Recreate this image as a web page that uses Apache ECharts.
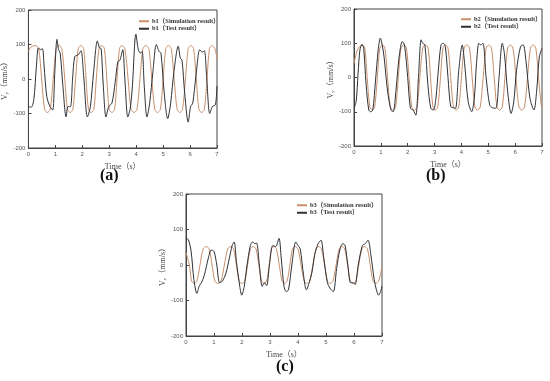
<!DOCTYPE html>
<html>
<head>
<meta charset="utf-8">
<script src="https://cdn.jsdelivr.net/npm/echarts@6/dist/echarts.min.js"></script>
<style>
  html, body { margin: 0; padding: 0; background: #ffffff; }
  #main { width: 550px; height: 381px; }
</style>
</head>
<body>
<div id="main"></div>
<script>
// time ticks and velocity ticks
var timeTicks = [0, 1, 2, 3, 4, 5, 6, 7];
var velTicks = [-200, -100, 0, 100, 200];

// (a) b1 -- [time s, Vy mm/s]
var b1Sim = [[0,80],[0.1,93],[0.25,97],[0.38,88],[0.49,0],[0.6,-88],[0.7,-97],[0.81,-88],[0.92,0],[1.03,88],[1.14,97],[1.24,88],[1.35,0],[1.45,-88],[1.55,-97],[1.65,-88],[1.75,0],[1.85,88],[1.95,97],[2.05,88],[2.14,0],[2.23,-88],[2.33,-97],[2.43,-88],[2.52,0],[2.62,88],[2.72,97],[2.82,88],[2.91,0],[3.0,-88],[3.1,-97],[3.2,-88],[3.29,0],[3.38,88],[3.47,97],[3.58,88],[3.7,0],[3.81,-88],[3.92,-97],[4.03,-88],[4.14,0],[4.25,88],[4.36,97],[4.47,88],[4.58,0],[4.69,-88],[4.79,-97],[4.9,-88],[5.0,0],[5.1,88],[5.2,97],[5.3,88],[5.41,0],[5.52,-88],[5.62,-97],[5.72,-88],[5.83,0],[5.93,88],[6.03,97],[6.13,88],[6.23,0],[6.33,-88],[6.43,-97],[6.53,-88],[6.63,0],[6.72,88],[6.82,97],[6.92,88],[7,60]];
var b1Test = [[0,-80],[0.1,-82],[0.2,-60],[0.3,40],[0.37,90],[0.45,85],[0.52,88],[0.58,40],[0.68,-50],[0.8,-80],[0.9,-90],[0.98,20],[1.06,115],[1.12,85],[1.18,75],[1.28,-20],[1.4,-110],[1.47,-80],[1.56,-80],[1.64,0],[1.72,65],[1.85,70],[1.95,82],[2.05,10],[2.19,-110],[2.3,-80],[2.42,20],[2.56,110],[2.64,90],[2.7,88],[2.78,-20],[2.88,-110],[2.98,-80],[3.1,-70],[3.22,-10],[3.32,50],[3.4,55],[3.5,85],[3.58,0],[3.69,-110],[3.78,-85],[3.86,-20],[3.99,130],[4.08,85],[4.16,75],[4.22,80],[4.3,-20],[4.4,-110],[4.5,-70],[4.62,20],[4.75,100],[4.85,80],[4.92,75],[5.04,-40],[5.17,-115],[5.28,-70],[5.4,20],[5.56,95],[5.64,60],[5.7,55],[5.8,-40],[5.93,-125],[6.02,-80],[6.1,-70],[6.22,10],[6.36,85],[6.45,78],[6.53,82],[6.62,0],[6.73,-100],[6.83,-80],[6.94,-75],[7,-20]];

// (b) b2
var b2Sim = [[0,40],[0.1,75],[0.2,90],[0.3,95],[0.4,86],[0.49,0],[0.59,-86],[0.68,-95],[0.77,-86],[0.87,0],[0.96,86],[1.05,95],[1.15,86],[1.25,0],[1.35,-86],[1.45,-95],[1.55,-86],[1.65,0],[1.75,86],[1.85,95],[1.95,86],[2.05,0],[2.15,-86],[2.25,-95],[2.35,-86],[2.45,0],[2.56,86],[2.66,95],[2.76,86],[2.85,0],[2.94,-86],[3.03,-95],[3.12,-86],[3.22,0],[3.31,86],[3.4,95],[3.5,86],[3.6,0],[3.7,-86],[3.8,-95],[3.9,-86],[4.0,0],[4.1,86],[4.2,95],[4.3,86],[4.4,0],[4.5,-86],[4.6,-95],[4.7,-86],[4.81,0],[4.92,86],[5.02,95],[5.12,86],[5.22,0],[5.32,-86],[5.42,-95],[5.52,-86],[5.62,0],[5.72,86],[5.82,95],[5.92,86],[6.03,0],[6.14,-86],[6.25,-95],[6.35,-86],[6.46,0],[6.57,86],[6.67,95],[6.77,86],[6.87,0],[6.97,-80],[7,-88]];
var b2Test = [[0,-90],[0.08,-70],[0.15,10],[0.22,80],[0.3,97],[0.36,85],[0.45,-20],[0.55,-95],[0.62,-100],[0.7,-95],[0.8,-10],[0.9,80],[0.98,115],[1.05,95],[1.12,60],[1.25,-40],[1.38,-95],[1.46,-100],[1.56,-40],[1.68,60],[1.8,105],[1.88,95],[2.0,0],[2.1,-90],[2.2,-95],[2.3,-110],[2.4,0],[2.5,110],[2.56,100],[2.64,95],[2.75,-20],[2.86,-90],[2.96,-95],[3.05,-60],[3.15,30],[3.24,95],[3.32,100],[3.4,90],[3.5,0],[3.6,-85],[3.7,-88],[3.78,-90],[3.9,20],[4.03,95],[4.12,40],[4.25,-70],[4.38,-100],[4.48,-60],[4.56,40],[4.65,100],[4.72,95],[4.8,100],[4.92,0],[5.05,-80],[5.15,-88],[5.28,-90],[5.4,0],[5.52,100],[5.6,70],[5.72,-40],[5.85,-105],[5.95,-70],[6.05,20],[6.2,90],[6.3,95],[6.4,50],[6.55,-60],[6.7,-95],[6.8,-40],[6.9,60],[7,85]];

// (c) b3
var b3Sim = [[0,35],[0.12,0],[0.2,-45],[0.29,-52],[0.39,-45],[0.5,0],[0.61,45],[0.72,52],[0.83,45],[0.93,0],[1.03,-45],[1.14,-52],[1.25,-45],[1.37,0],[1.49,45],[1.6,52],[1.7,45],[1.8,0],[1.9,-45],[2.0,-52],[2.1,-45],[2.2,0],[2.3,45],[2.4,52],[2.5,45],[2.6,0],[2.7,-45],[2.79,-52],[2.88,-45],[2.97,0],[3.05,45],[3.14,52],[3.23,45],[3.33,0],[3.43,-45],[3.52,-52],[3.61,-45],[3.71,0],[3.8,45],[3.9,52],[4.0,45],[4.11,0],[4.22,-45],[4.32,-52],[4.42,-45],[4.53,0],[4.64,45],[4.74,52],[4.84,45],[4.95,0],[5.05,-45],[5.15,-52],[5.25,-45],[5.36,0],[5.47,45],[5.57,52],[5.67,45],[5.77,0],[5.87,-45],[5.97,-52],[6.07,-45],[6.17,0],[6.28,45],[6.38,52],[6.48,45],[6.58,0],[6.68,-45],[6.78,-52],[6.88,-45],[7,-5]];
var b3Test = [[0,75],[0.08,72],[0.18,40],[0.28,-40],[0.39,-80],[0.47,-60],[0.55,-50],[0.65,-30],[0.8,20],[0.9,42],[1.0,38],[1.1,0],[1.2,-50],[1.3,-45],[1.42,-25],[1.55,20],[1.65,55],[1.72,65],[1.8,10],[1.92,-60],[1.99,-85],[2.08,-60],[2.18,0],[2.3,55],[2.38,65],[2.46,60],[2.52,62],[2.62,0],[2.72,-60],[2.8,-50],[2.88,-58],[2.98,0],[3.1,55],[3.2,52],[3.32,75],[3.4,20],[3.5,-60],[3.58,-75],[3.66,-70],[3.78,0],[3.92,65],[4.0,55],[4.08,45],[4.2,-30],[4.3,-70],[4.4,-50],[4.5,-20],[4.6,30],[4.72,60],[4.82,70],[4.92,20],[5.05,-50],[5.14,-65],[5.26,-75],[5.38,-10],[5.5,45],[5.6,60],[5.68,55],[5.78,0],[5.88,-50],[5.98,-50],[6.04,-55],[6.15,0],[6.3,55],[6.4,60],[6.5,70],[6.6,30],[6.72,-40],[6.8,-70],[6.88,-85],[6.95,-75],[7,-60]];

var simColor = '#c8906e';
var testColor = '#2e3136';
var serif = "'Liberation Serif', 'Noto Sans CJK SC', serif";
var sans = "'Liberation Sans', Arial, sans-serif";

var grids = [
    {left: 25, top: 10, width: 192, height: 138},
    {left: 354, top: 9, width: 188, height: 137},
    {left: 186, top: 194, width: 196, height: 142}
];

function xAx(i) {
    return {
        type: 'value', gridIndex: i, min: timeTicks[0], max: timeTicks[timeTicks.length - 1], interval: 1,
        name: 'Time（s）', nameLocation: 'middle', nameGap: 15,
        nameTextStyle: {fontFamily: serif, fontSize: 8, color: '#444'},
        axisLine: {onZero: false, lineStyle: {color: '#444', width: 1}},
        axisTick: {inside: true, length: 3, lineStyle: {color: '#444'}},
        axisLabel: {fontSize: 6, color: '#555', margin: 3, fontFamily: sans},
        splitLine: {show: false}
    };
}
function yAx(i) {
    return {
        type: 'value', gridIndex: i, min: velTicks[0], max: velTicks[velTicks.length - 1], interval: 100,
        name: 'V{s|y}（mm/s）', nameLocation: 'middle', nameGap: 15, nameRotate: 90,
        nameTextStyle: {fontFamily: serif, fontSize: 8, color: '#444',
            rich: {s: {fontSize: 5, fontFamily: serif, color: '#444', verticalAlign: 'bottom', padding: [4, 0, 0, 0]}}},
        axisLine: {onZero: false, lineStyle: {color: '#444', width: 1}},
        axisTick: {inside: true, length: 3, lineStyle: {color: '#444'}},
        axisLabel: {fontSize: 6, color: '#555', margin: 3, fontFamily: sans},
        splitLine: {show: false}
    };
}
function leg(names, left, top) {
    return {
        data: names, orient: 'vertical', left: left, top: top,
        itemWidth: 10, itemHeight: 2, itemGap: 1, icon: 'rect',
        textStyle: {fontFamily: serif, fontSize: 6.5, fontWeight: 'bold', color: '#333', padding: [0, 0, 0, -2]}
    };
}
function ln(name, data, i, color) {
    return {
        name: name, type: 'line', xAxisIndex: i, yAxisIndex: i, data: data,
        showSymbol: false, smooth: 0.3, lineStyle: {width: 1, color: color},
        itemStyle: {color: color}
    };
}

var chart = echarts.init(document.getElementById('main'), null, {renderer: 'canvas'});
chart.setOption({
    animation: false,
    backgroundColor: '#ffffff',
    grid: grids.map(function (g) {
        return Object.assign({show: true, borderColor: '#444', borderWidth: 1, backgroundColor: 'transparent'}, g);
    }),
    xAxis: [xAx(0), xAx(1), xAx(2)],
    yAxis: [yAx(0), yAx(1), yAx(2)],
    legend: [
        leg(['b1（Simulation result）', 'b1（Test result）'], 134, 13),
        leg(['b2（Simulation result）', 'b2（Test result）'], 456, 11),
        leg(['b3（Simulation result）', 'b3（Test result）'], 292, 197)
    ],
    series: [
        ln('b1（Simulation result）', b1Sim, 0, simColor),
        ln('b1（Test result）', b1Test, 0, testColor),
        ln('b2（Simulation result）', b2Sim, 1, simColor),
        ln('b2（Test result）', b2Test, 1, testColor),
        ln('b3（Simulation result）', b3Sim, 2, simColor),
        ln('b3（Test result）', b3Test, 2, testColor)
    ],
    graphic: [
        {type: 'text', left: 100, top: 168, style: {text: '(a)', font: 'bold 16px ' + serif, fill: '#111'}},
        {type: 'text', left: 426, top: 168, style: {text: '(b)', font: 'bold 16px ' + serif, fill: '#111'}},
        {type: 'text', left: 276, top: 359, style: {text: '(c)', font: 'bold 16px ' + serif, fill: '#111'}}
    ]
});
</script>
</body>
</html>
